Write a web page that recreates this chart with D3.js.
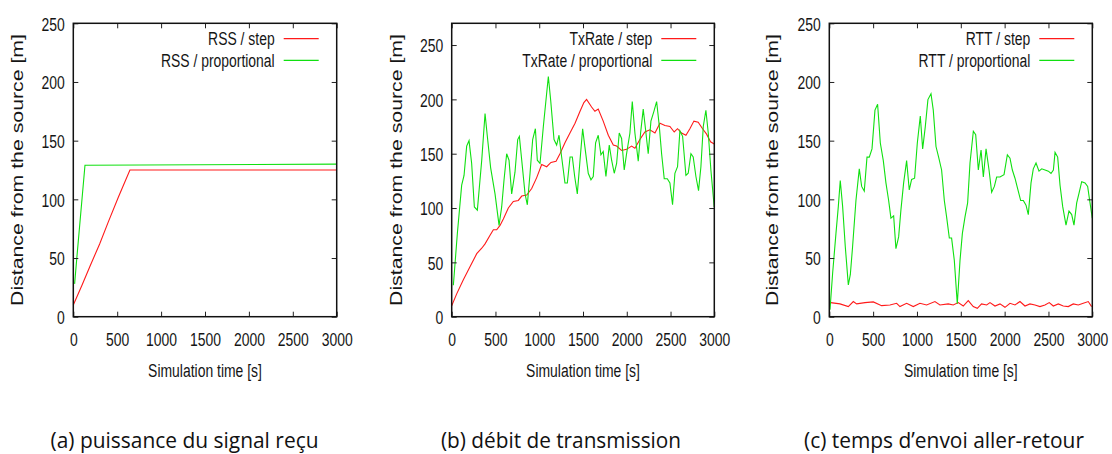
<!DOCTYPE html>
<html><head><meta charset="utf-8">
<script src="https://cdn.jsdelivr.net/npm/d3@7"></script>
<style>body{margin:0;background:#fff}</style></head>
<body>
<svg id="chart" width="1112" height="454"></svg>
<script>
// ---------- data ----------
const xTicks = [0, 500, 1000, 1500, 2000, 2500, 3000];
const yTicks = [0, 50, 100, 150, 200, 250];
const yMax = [250, 270, 250];
const xLabel = "Simulation time [s]";
const yLabel = "Distance from the source [m]";
const legendLabels = [
  ["RSS / step", "RSS / proportional"],
  ["TxRate / step", "TxRate / proportional"],
  ["RTT / step", "RTT / proportional"]
];
const captions = ["(a) puissance du signal reçu", "(b) débit de transmission", "(c) temps d’envoi aller-retour"];

const rssStep = [[0,10],[100,27],[190,43],[300,62],[400,81],[514,102],[645,125],[3000,125]];
const rssProp = [[15,28],[40,50],[133,129],[3000,130]];

const txStep = [[0,10],[57,21],[133,34],[209,46],[286,58],[343,63],[381,67],[438,75],[476,80],[514,80],[552,84],[590,90],[647,100],[704,106],[761,107],[800,111],[857,112],[914,118],[971,128],[1028,140],[1085,138],[1134,142],[1192,143],[1237,150],[1294,160],[1351,169],[1409,178],[1466,189],[1510,197],[1541,200],[1598,193],[1636,189],[1674,191],[1731,180],[1789,167],[1846,158],[1884,157],[1941,153],[1998,154],[2055,157],[2093,155],[2150,163],[2207,170],[2264,172],[2322,169],[2379,178],[2436,176],[2493,175],[2542,170],[2580,173],[2626,169],[2676,167],[2721,173],[2767,180],[2816,179],[2866,173],[2912,168],[2957,161],[2999,159]];
const txProp = [[19,29],[65,77],[114,121],[141,130],[171,157],[198,162],[228,141],[259,101],[293,98],[343,144],[381,187],[407,166],[445,137],[495,113],[541,84],[571,101],[598,126],[628,150],[655,144],[685,113],[723,133],[754,163],[773,166],[800,144],[838,113],[864,103],[895,132],[925,163],[956,173],[978,144],[1009,141],[1047,175],[1104,221],[1131,199],[1169,163],[1199,158],[1226,167],[1256,147],[1294,123],[1321,123],[1352,147],[1378,147],[1405,129],[1435,113],[1466,144],[1496,173],[1522,156],[1560,132],[1591,126],[1617,129],[1644,160],[1674,167],[1705,149],[1731,152],[1762,129],[1800,158],[1827,144],[1857,132],[1884,141],[1914,169],[1941,164],[1971,135],[1998,150],[2036,169],[2063,198],[2093,169],[2131,143],[2158,169],[2188,191],[2215,172],[2245,150],[2276,180],[2310,189],[2341,198],[2371,176],[2398,150],[2428,127],[2463,127],[2493,123],[2523,103],[2550,132],[2580,138],[2607,171],[2638,166],[2676,130],[2702,132],[2733,150],[2759,147],[2790,129],[2820,116],[2847,138],[2874,175],[2904,190],[2931,169],[2961,135],[2999,101]];

const rttStep = [[15,12.0],[122,10.9],[217,8.6],[274,12.9],[312,10.9],[407,12.0],[502,12.6],[597,9.4],[692,10.0],[768,11.4],[806,8.6],[882,11.4],[958,8.6],[1034,11.4],[1110,10.0],[1205,12.9],[1262,10.0],[1357,10.9],[1414,10.0],[1471,12.0],[1528,9.1],[1585,13.7],[1642,8.6],[1688,7.1],[1737,10.9],[1795,10.0],[1833,12.0],[1890,9.1],[1947,10.9],[2004,8.0],[2061,11.4],[2118,10.0],[2175,12.9],[2232,9.1],[2289,10.9],[2346,10.0],[2403,8.6],[2460,10.0],[2509,12.0],[2555,9.1],[2612,10.9],[2669,9.1],[2726,8.6],[2783,10.9],[2840,10.0],[2897,11.4],[2954,12.9],[2992,8.6]];
const rttProp = [[8,6],[38,37],[76,71],[103,94],[125,116],[152,94],[182,60],[217,27],[240,36],[266,60],[304,99],[342,126],[369,111],[399,107],[430,136],[456,136],[487,143],[521,176],[551,181],[582,148],[616,133],[646,114],[677,99],[703,84],[734,86],[760,58],[791,68],[817,91],[848,114],[882,133],[912,108],[939,117],[973,118],[1004,148],[1038,171],[1065,143],[1095,162],[1125,185],[1160,190],[1186,176],[1217,145],[1247,136],[1281,125],[1312,99],[1338,85],[1369,67],[1395,67],[1426,48],[1460,11],[1491,48],[1518,71],[1548,85],[1578,97],[1605,131],[1643,158],[1670,155],[1700,125],[1731,142],[1757,119],[1788,143],[1822,125],[1852,106],[1883,111],[1909,119],[1947,119],[1993,121],[2031,138],[2061,135],[2088,125],[2118,118],[2149,109],[2183,99],[2213,99],[2244,95],[2270,87],[2301,114],[2327,126],[2358,131],[2392,124],[2423,126],[2461,125],[2499,124],[2529,122],[2556,125],[2575,140],[2605,136],[2632,112],[2662,94],[2700,78],[2734,90],[2765,87],[2791,78],[2822,97],[2848,105],[2879,115],[2917,114],[2947,111],[2974,97],[3000,84]];

const stepSeries = [rssStep, txStep, rttStep];
const propSeries = [rssProp, txProp, rttProp];

// ---------- layout ----------
const panels = [
  {l: 73.3, r: 336.7, ylab: 23, cap: 184.5, capW: 268},
  {l: 451.7, r: 714.3, ylab: 401.5, cap: 561, capW: 240},
  {l: 829.3, r: 1092.3, ylab: 778, cap: 944, capW: 280}
];
const plotTop = 23.3, plotBottom = 316.7;
const FONT = "'Liberation Sans', Arial, Helvetica, sans-serif";
const SX = 0.82, SY = 1.12;
const TXT = "#151515";
const fmt = d3.format("d");

const svg = d3.select("#chart");

panels.forEach((p, i) => {
  const x = d3.scaleLinear().domain([0, 3000]).range([p.l, p.r]);
  const y = d3.scaleLinear().domain([0, yMax[i]]).range([plotBottom, plotTop]);
  const g = svg.append("g");

  // series
  const line = d3.line().x(d => x(d[0])).y(d => y(d[1]));
  g.append("path").datum(stepSeries[i]).attr("d", line)
    .attr("fill", "none").attr("stroke", "#ff1a1a").attr("stroke-width", 1.1);
  g.append("path").datum(propSeries[i]).attr("d", line)
    .attr("fill", "none").attr("stroke", "#10e010").attr("stroke-width", 1.1);

  // axes
  const ab = g.append("g").attr("transform", `translate(0,${plotBottom})`)
    .call(d3.axisBottom(x).tickValues(xTicks).tickFormat(fmt).tickSizeInner(-5).tickSizeOuter(0));
  const at = g.append("g").attr("transform", `translate(0,${plotTop})`)
    .call(d3.axisTop(x).tickValues(xTicks).tickSizeInner(-5).tickSizeOuter(0).tickFormat(""));
  const al = g.append("g").attr("transform", `translate(${p.l},0)`)
    .call(d3.axisLeft(y).tickValues(yTicks).tickFormat(fmt).tickSizeInner(-5).tickSizeOuter(0));
  const ar = g.append("g").attr("transform", `translate(${p.r},0)`)
    .call(d3.axisRight(y).tickValues(yTicks).tickSizeInner(-5).tickSizeOuter(0).tickFormat(""));
  [ab, at, al, ar].forEach(a => {
    a.select(".domain").remove();
    a.selectAll("line").attr("stroke", "#222").attr("stroke-width", 1);
    a.selectAll("text").attr("font-family", FONT).attr("font-size", 17).attr("fill", TXT);
  });
  ab.selectAll("text").attr("x", 0).attr("y", 0).attr("dy", null)
    .attr("transform", `translate(0,29.3) scale(${SX},${SY})`);
  al.selectAll("text").attr("x", 0).attr("y", 0).attr("dy", null)
    .attr("transform", `translate(-8.5,6.8) scale(${SX},${SY})`);

  // frame
  g.append("rect").attr("x", p.l).attr("y", plotTop).attr("width", p.r - p.l).attr("height", plotBottom - plotTop)
    .attr("fill", "none").attr("stroke", "#111").attr("stroke-width", 1.5);

  // axis titles
  g.append("text").attr("transform", `translate(${(p.l + p.r) / 2},376.5) scale(${SX},${SY})`)
    .attr("text-anchor", "middle").attr("font-family", FONT).attr("font-size", 17).attr("fill", TXT)
    .text(xLabel);
  g.append("text").attr("transform", `translate(${p.ylab},${(plotTop + plotBottom) / 2}) rotate(-90) scale(1,0.8)`)
    .attr("text-anchor", "middle").attr("font-family", FONT).attr("font-size", 21.3).attr("fill", TXT)
    .text(yLabel);

  // legend
  const colors = ["#ff1a1a", "#10e010"];
  legendLabels[i].forEach((lab, k) => {
    const ly = 38.7 + k * 21.6;
    g.append("text").attr("transform", `translate(${p.r - 62},${ly + 6.3}) scale(${SX},${SY})`)
      .attr("text-anchor", "end").attr("font-family", FONT).attr("font-size", 17).attr("fill", TXT)
      .text(lab);
    g.append("line").attr("x1", p.r - 53).attr("x2", p.r - 18).attr("y1", ly).attr("y2", ly)
      .attr("stroke", colors[k]).attr("stroke-width", 1.2);
  });

  // caption
  svg.append("text").attr("x", p.cap).attr("y", 448).attr("text-anchor", "middle")
    .attr("font-family", "'Open Sans', 'Noto Sans', sans-serif").attr("font-size", 21.5).attr("fill", "#111")
    .attr("textLength", p.capW).attr("lengthAdjust", "spacingAndGlyphs")
    .text(captions[i]);
});
</script>
</body></html>
